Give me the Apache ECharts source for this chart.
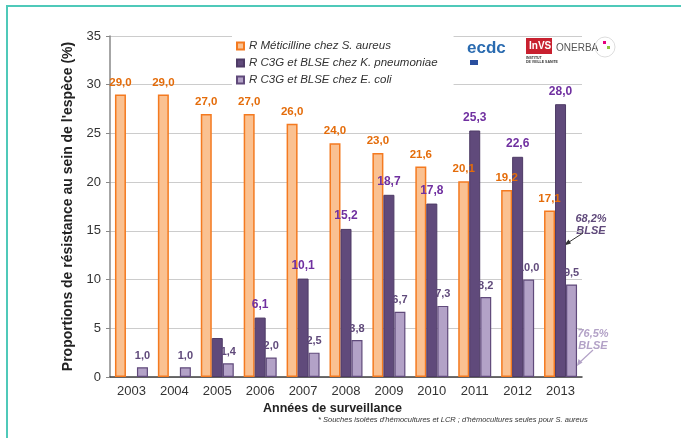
<!DOCTYPE html>
<html lang="fr">
<head>
    <meta charset="UTF-8">
    <title>Résistance</title>
    <script src="https://cdn.jsdelivr.net/npm/echarts@6/dist/echarts.min.js"></script>
</head>
<style>
    * {
        margin: 0px;
        padding: 0px;
    }
    html, body {
        width: 681px;
        height: 438px;
        overflow: hidden;
        background: #fff;
    }
    .container {
        width: 681px;
        height: 438px;
    }
</style>
<body>
    <div class="container"></div>
</body>
<script>
    // données
    let years = ['2003', '2004', '2005', '2006', '2007', '2008', '2009', '2010', '2011', '2012', '2013'];
    let sAureus = [29.0, 29.0, 27.0, 27.0, 26.0, 24.0, 23.0, 21.6, 20.1, 19.2, 17.1];
    let kPneumo = ['-', '-', 4.0, 6.1, 10.1, 15.2, 18.7, 17.8, 25.3, 22.6, 28.0];
    let eColi = [1.0, 1.0, 1.4, 2.0, 2.5, 3.8, 6.7, 7.3, 8.2, 10.0, 9.5];
    let names = ['R Méticilline chez S. aureus', 'R C3G et BLSE chez K. pneumoniae', 'R C3G et BLSE chez E. coli'];

    let font = 'Liberation Sans, Arial, sans-serif';
    let fmt = p => (typeof p.value === 'number') ? p.value.toFixed(1).replace('.', ',') : '';

    let container = document.querySelector('.container');
    let mycharts = echarts.init(container);

    // pas d'étiquette pour K. pneumoniae 2005
    let kData = kPneumo.map((v, i) => i == 2 ? {value: v, label: {show: false}} : v);

    let option = {
        animation: false,
        textStyle: {fontFamily: font},
        grid: {left: 110, right: 99, top: 36, bottom: 61},
        legend: {
            orient: 'vertical',
            left: 232,
            top: 36,
            itemWidth: 7,
            itemHeight: 7,
            itemGap: 5,
            padding: [4, 16, 4, 4],
            backgroundColor: '#fff',
            icon: 'rect',
            data: names,
            textStyle: {fontStyle: 'italic', fontSize: 11.5, color: '#333', fontFamily: font}
        },
        xAxis: {
            type: 'category',
            data: years,
            axisLine: {lineStyle: {color: '#404040', width: 1.5}},
            axisTick: {length: 5, lineStyle: {color: '#404040'}},
            axisLabel: {fontSize: 13, color: '#333', margin: 8}
        },
        yAxis: {
            type: 'value',
            min: 0,
            max: 35,
            interval: 5,
            name: "Proportions de résistance au sein de l'espèce (%)",
            nameLocation: 'middle',
            nameGap: 23,
            nameTextStyle: {fontWeight: 'bold', fontSize: 14, color: '#222'},
            axisLine: {show: true, lineStyle: {color: '#888', width: 1.5}},
            axisTick: {show: true, length: 4, lineStyle: {color: '#888'}},
            axisLabel: {fontSize: 13, color: '#333', margin: 9},
            splitLine: {lineStyle: {color: '#ccc'}}
        },
        series: [
            {
                name: names[0],
                type: 'bar',
                data: sAureus,
                barWidth: 11,
                barGap: '0%',
                itemStyle: {color: '#FAC191', borderColor: '#F47A20', borderWidth: 1.5},
                label: {show: true, position: 'top', distance: 6, formatter: fmt,
                    color: '#E46C0A', fontWeight: 'bold', fontSize: 11.5}
            },
            {
                name: names[1],
                type: 'bar',
                data: kData,
                barWidth: 11,
                barGap: '0%',
                itemStyle: {color: '#604A7B', borderColor: '#4E3B66', borderWidth: 1},
                label: {show: true, position: 'top', distance: 7, formatter: fmt,
                    color: '#7030A0', fontWeight: 'bold', fontSize: 12}
            },
            {
                name: names[2],
                type: 'bar',
                data: eColi,
                barWidth: 11,
                barGap: '0%',
                itemStyle: {color: '#B3A2C7', borderColor: '#604A7B', borderWidth: 1.2},
                label: {show: true, position: 'top', distance: 6, formatter: fmt,
                    color: '#604A7B', fontWeight: 'bold', fontSize: 11}
            }
        ],
        graphic: [
            // cadre
            {type: 'line', shape: {x1: 6.5, y1: 6, x2: 681, y2: 6}, style: {stroke: '#4FC9B9', lineWidth: 2}},
            {type: 'line', shape: {x1: 7, y1: 5, x2: 7, y2: 438}, style: {stroke: '#4FC9B9', lineWidth: 2}},
            // titre axe x
            {type: 'text', left: 263, top: 402, style: {text: 'Années de surveillance', font: 'bold 12.5px ' + font, fill: '#222'}},
            // note
            {type: 'text', left: 318, top: 416, style: {text: "* Souches isolées d'hémocultures et LCR ; d'hémocultures seules pour S. aureus",
                font: 'italic 7.5px ' + font, fill: '#333'}},
            // annotations BLSE
            {type: 'text', style: {x: 591, y: 213, text: '68,2%\nBLSE', font: 'bold italic 11px ' + font,
                fill: '#604A7B', align: 'center', lineHeight: 12}},
            {type: 'line', shape: {x1: 583, y1: 233, x2: 566, y2: 244}, style: {stroke: '#333', lineWidth: 1}},
            {type: 'polygon', shape: {points: [[564, 245.5], [568.5, 239.5], [571, 243.5]]}, style: {fill: '#333'}},
            {type: 'text', style: {x: 593, y: 328, text: '76,5%\nBLSE', font: 'bold italic 11px ' + font,
                fill: '#B3A2C7', align: 'center', lineHeight: 12}},
            {type: 'line', shape: {x1: 593, y1: 350, x2: 579, y2: 363}, style: {stroke: '#B3A2C7', lineWidth: 1.2}},
            {type: 'polygon', shape: {points: [[577, 366], [578.5, 359], [582.5, 362.5]]}, style: {fill: '#B3A2C7'}},
            // logos (approximation)
            {type: 'rect', shape: {x: 518, y: 30, width: 62, height: 10}, style: {fill: '#fff'}},
            {type: 'text', left: 467, top: 40, style: {text: 'ecdc', font: 'bold 17px ' + font, fill: '#2A6BB0'}},
            {type: 'rect', shape: {x: 470, y: 60, width: 8, height: 5}, style: {fill: '#2A4F9E'}},
            {type: 'rect', shape: {x: 526, y: 38, width: 26, height: 16}, style: {fill: '#C8202F'}},
            {type: 'text', left: 529, top: 41, style: {text: 'InVS', font: 'bold 10px ' + font, fill: '#fff'}},
            {type: 'text', left: 526, top: 56, style: {text: 'INSTITUT\nDE VEILLE SANITE', font: 'bold 3.5px ' + font, fill: '#333'}},
            {type: 'text', left: 556, top: 43, style: {text: 'ONERBA', font: '10px ' + font, fill: '#555'}},
            {type: 'circle', shape: {cx: 605, cy: 47, r: 10}, style: {fill: 'none', stroke: '#ddd', lineWidth: 1}},
            {type: 'rect', shape: {x: 603, y: 41, width: 3, height: 3}, style: {fill: '#E6007E'}},
            {type: 'rect', shape: {x: 607, y: 46, width: 3, height: 3}, style: {fill: '#8CC63F'}}
        ]
    };
    mycharts.setOption(option);
</script>
</html>
